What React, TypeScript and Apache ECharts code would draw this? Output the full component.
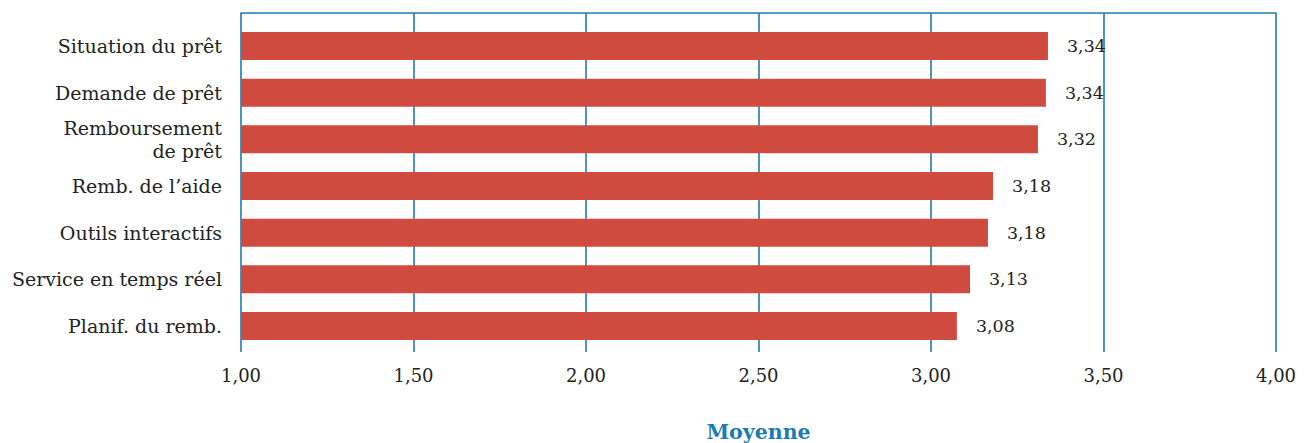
import React, { useEffect, useRef } from "react";
import * as echarts from "echarts";

const categories = [
  "Situation du prêt",
  "Demande de prêt",
  "Remboursement\nde prêt",
  "Remb. de l’aide",
  "Outils interactifs",
  "Service en temps réel",
  "Planif. du remb.",
];
const barValues = [3.339, 3.333, 3.31, 3.18, 3.165, 3.113, 3.075];
const valueLabels = ["3,34", "3,34", "3,32", "3,18", "3,18", "3,13", "3,08"];
const axisMin = 1;
const axisMax = 4;
const axisStep = 0.5;
const axisTitle = "Moyenne";

const BLUE = "#1c7bb1";
const RED = "#cf4a3f";
const TEXT = "#222222";
const FONT = "DejaVu Serif";

export default function App() {
  const ref = useRef<HTMLDivElement>(null);
  useEffect(() => {
    if (!ref.current) return;
    const chart = echarts.init(ref.current, undefined, { renderer: "svg" });
    chart.setOption({
      animation: false,
      backgroundColor: "#ffffff",
      grid: [
        { left: 241, right: 36, top: 13, height: 339, containLabel: false, outerBoundsMode: "none" },
        { left: 241, right: 36, top: 22.7, height: 326.6, containLabel: false, outerBoundsMode: "none" },
      ],
      xAxis: [
        {
          gridIndex: 0,
          type: "value",
          min: axisMin,
          max: axisMax,
          interval: axisStep,
          position: "bottom",
          axisLine: { show: false },
          axisTick: { show: false },
          splitLine: { show: true, lineStyle: { color: BLUE, width: 1.6 } },
          axisLabel: {
            margin: 14,
            color: TEXT,
            fontFamily: FONT,
            fontSize: 18,
            formatter: (v: number) => v.toFixed(2).replace(".", ","),
          },
          name: axisTitle,
          nameLocation: "middle",
          nameGap: 69,
          nameTextStyle: {
            color: BLUE,
            fontFamily: FONT,
            fontWeight: "bold",
            fontSize: 20.5,
          },
        },
        {
          gridIndex: 0,
          type: "value",
          min: axisMin,
          max: axisMax,
          interval: axisStep,
          position: "top",
          axisLine: { show: true, lineStyle: { color: BLUE, width: 1.6 } },
          axisTick: { show: false },
          axisLabel: { show: false },
          splitLine: { show: false },
        },
        {
          gridIndex: 1,
          type: "value",
          min: axisMin,
          max: axisMax,
          interval: axisStep,
          show: false,
        },
      ],
      yAxis: [
        {
          gridIndex: 0,
          type: "category",
          data: categories,
          show: false,
        },
        {
          gridIndex: 1,
          type: "category",
          data: categories,
          inverse: true,
          axisLine: { show: false },
          axisTick: { show: false },
          axisLabel: {
            margin: 19,
            color: TEXT,
            fontFamily: FONT,
            fontSize: 19,
            lineHeight: 23,
            align: "right",
          },
        },
      ],
      series: [
        {
          type: "bar",
          xAxisIndex: 2,
          yAxisIndex: 1,
          data: barValues,
          barWidth: "60%",
          itemStyle: { color: RED },
          label: {
            show: true,
            position: "right",
            distance: 19,
            color: TEXT,
            fontFamily: FONT,
            fontSize: 17.5,
            formatter: (p: any) => valueLabels[p.dataIndex],
          },
        },
      ],
    });
    return () => chart.dispose();
  }, []);
  return (
    <div
      ref={ref}
      style={{ position: "fixed", left: 0, top: 0, width: 1312, height: 443 }}
    />
  );
}
